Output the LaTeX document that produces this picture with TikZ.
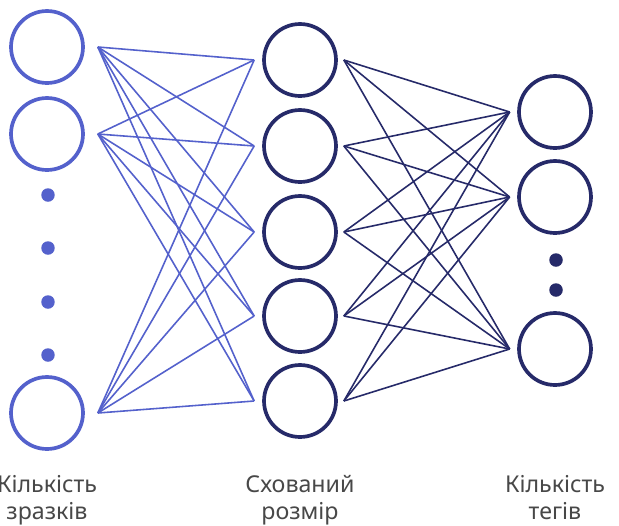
\documentclass[tikz,border=0pt]{standalone}
\usepackage{fontspec}
\setmainfont{Noto Sans}
\definecolor{layerblue}{RGB}{84,97,204}
\definecolor{layernavy}{RGB}{38,42,105}
\definecolor{labelgray}{RGB}{72,72,72}

\begin{document}
\begin{tikzpicture}[x=0.02cm,y=-0.02cm,font=\fontsize{13.2}{15.5}\selectfont,
  unit/.style={circle,draw,line width=2.1pt,fill=white,inner sep=0pt,minimum size=1.44cm},
  skipdot/.style={circle,fill,inner sep=0pt,minimum size=0.27cm},
  link/.style={line width=0.9pt},
  caption/.style={align=center,anchor=north,text=labelgray,inner sep=0pt}]
\useasboundingbox[fill=white] (0,0) rectangle (619,525);
% input layer
\node[unit,draw=layerblue] (samples-1) at (47,47) {};
\node[unit,draw=layerblue] (samples-2) at (47,134) {};
\node[unit,draw=layerblue] (samples-3) at (47,413) {};
\foreach \y [count=\k] in {195,248,302,355}
  \node[skipdot,layerblue] (samples-dot-\k) at (48,\y) {};
% hidden layer
\foreach \y [count=\k] in {60,146,232,316,401}
  \node[unit,draw=layernavy] (hidden-\k) at (300,\y) {};
% output layer
\node[unit,draw=layernavy] (tags-1) at (555,112) {};
\node[unit,draw=layernavy] (tags-2) at (555,197) {};
\node[unit,draw=layernavy] (tags-3) at (555,349) {};
\foreach \y [count=\k] in {260,290}
  \node[skipdot,layernavy] (tags-dot-\k) at (556,\y) {};
% ports
\foreach \i in {1,2,3} {
  \coordinate (samples-\i-out) at ([xshift=0.26cm]samples-\i.east);
  \coordinate (tags-\i-in) at ([xshift=-0.15cm]tags-\i.west);
}
\foreach \j in {1,...,5} {
  \coordinate (hidden-\j-in) at ([xshift=-0.16cm]hidden-\j.west);
  \coordinate (hidden-\j-out) at ([xshift=0.12cm]hidden-\j.east);
}
% connections
\foreach \i in {1,2,3}
  \foreach \j in {1,...,5}
    \draw[link,layerblue] (samples-\i-out) -- (hidden-\j-in);
\foreach \j in {1,...,5}
  \foreach \i in {1,2,3}
    \draw[link,layernavy] (hidden-\j-out) -- (tags-\i-in);
% captions
\node[caption] (samples-label) at (47,475) {Кількість\\зразків};
\node[caption] (hidden-label) at (300,475) {Схований\\розмір};
\node[caption] (tags-label) at (555,475) {Кількість\\тегів};
\end{tikzpicture}
\end{document}
